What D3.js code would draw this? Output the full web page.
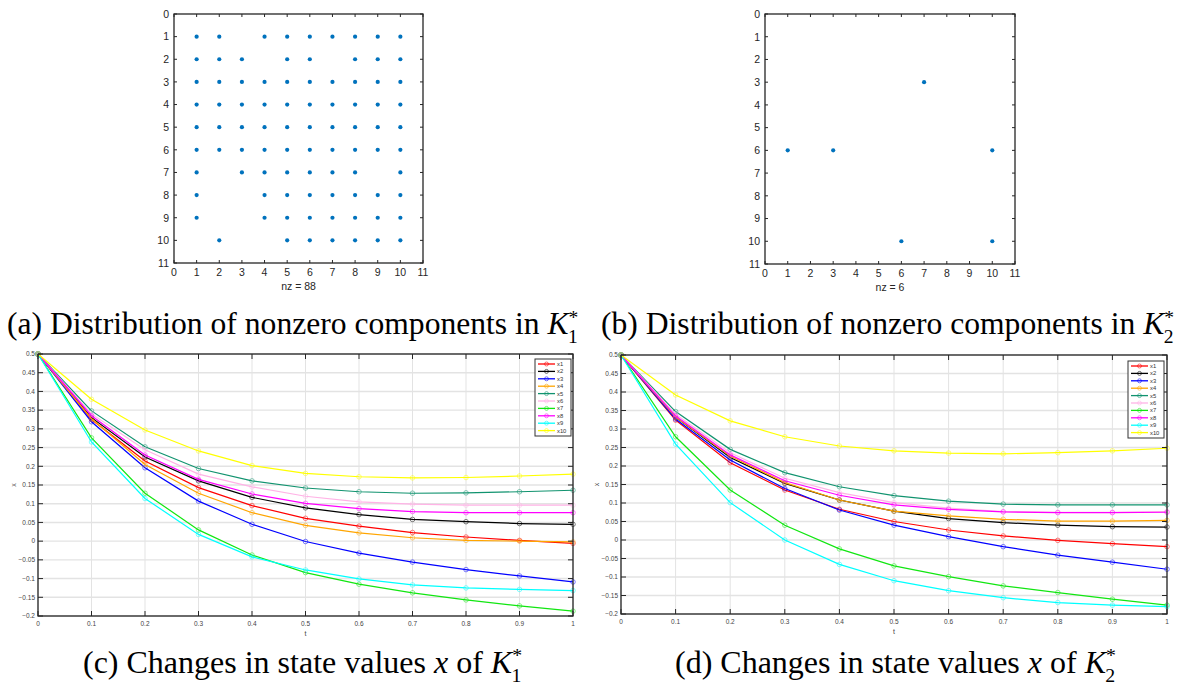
<!DOCTYPE html>
<html>
<head>
  <meta charset="utf-8">
  <script src="https://d3js.org/d3.v7.min.js"></script>
  <style>
    body { margin: 0; background: #fff; }
    text { font-family: "Liberation Sans", Arial, sans-serif; }
    .cap { font-family: "Liberation Serif", "Times New Roman", serif; fill: #000; }
  </style>
</head>
<body>
<script>
  "use strict";

  // spy patterns: column indices of the nonzeros, one list per row (rows 1..10)
  var k1Rows = [
    [1, 2, 4, 5, 6, 7, 8, 9, 10],
    [1, 2, 3, 5, 6, 8, 9, 10],
    [1, 2, 3, 4, 5, 6, 7, 8, 9, 10],
    [1, 2, 3, 4, 5, 6, 7, 8, 9, 10],
    [1, 2, 3, 4, 5, 6, 7, 8, 9, 10],
    [1, 2, 3, 4, 5, 6, 7, 8, 9, 10],
    [1, 3, 4, 5, 6, 7, 8, 10],
    [1, 4, 5, 6, 7, 8, 9, 10],
    [1, 4, 5, 6, 7, 8, 9, 10],
    [2, 5, 6, 7, 8, 9, 10]
  ];
  var k2Rows = [[], [], [7], [], [], [1, 3, 10], [], [], [], [6, 10]];
  var spyTicks = [0, 1, 2, 3, 4, 5, 6, 7, 8, 9, 10, 11];

  // time steps and tick labels of the state plots
  var tSteps = [0, 0.1, 0.2, 0.3, 0.4, 0.5, 0.6, 0.7, 0.8, 0.9, 1];
  var tTicks = [0, 0.1, 0.2, 0.3, 0.4, 0.5, 0.6, 0.7, 0.8, 0.9, 1];
  var xTicks = [-0.2, -0.15, -0.1, -0.05, 0, 0.05, 0.1, 0.15, 0.2, 0.25, 0.3, 0.35, 0.4, 0.45, 0.5];

  var seriesNames = ["x1", "x2", "x3", "x4", "x5", "x6", "x7", "x8", "x9", "x10"];
  var seriesColors = ["#ff0000", "#000000", "#0000ff", "#ffa500", "#11936f",
                      "#ffb3e6", "#11e611", "#ff00ff", "#00ffff", "#ffff00"];

  // panel (c): K1*
  var c_x1  = [0.5, 0.325, 0.214, 0.143, 0.095, 0.061, 0.040, 0.023, 0.011, 0.002, -0.006];
  var c_x2  = [0.5, 0.330, 0.225, 0.161, 0.117, 0.089, 0.071, 0.058, 0.052, 0.047, 0.045];
  var c_x3  = [0.5, 0.319, 0.196, 0.107, 0.045, -0.001, -0.032, -0.056, -0.076, -0.093, -0.109];
  var c_x4  = [0.5, 0.327, 0.205, 0.128, 0.076, 0.042, 0.022, 0.009, 0.002, 0.000, -0.002];
  var c_x5  = [0.5, 0.348, 0.252, 0.194, 0.161, 0.142, 0.132, 0.128, 0.129, 0.132, 0.136];
  var c_x6  = [0.5, 0.340, 0.244, 0.179, 0.145, 0.120, 0.105, 0.099, 0.096, 0.096, 0.096];
  var c_x7  = [0.5, 0.276, 0.128, 0.030, -0.037, -0.084, -0.115, -0.138, -0.157, -0.173, -0.187];
  var c_x8  = [0.5, 0.335, 0.230, 0.165, 0.126, 0.101, 0.087, 0.079, 0.076, 0.076, 0.076];
  var c_x9  = [0.5, 0.265, 0.114, 0.018, -0.042, -0.077, -0.101, -0.117, -0.125, -0.129, -0.132];
  var c_x10 = [0.5, 0.379, 0.297, 0.241, 0.202, 0.181, 0.172, 0.169, 0.170, 0.174, 0.179];

  // panel (d): K2*
  var d_x1  = [0.5, 0.324, 0.209, 0.135, 0.083, 0.050, 0.027, 0.011, -0.001, -0.010, -0.018];
  var d_x2  = [0.5, 0.332, 0.223, 0.153, 0.108, 0.078, 0.058, 0.047, 0.040, 0.036, 0.035];
  var d_x3  = [0.5, 0.327, 0.216, 0.139, 0.081, 0.040, 0.009, -0.018, -0.041, -0.060, -0.079];
  var d_x4  = [0.5, 0.332, 0.227, 0.155, 0.108, 0.078, 0.065, 0.056, 0.051, 0.051, 0.053];
  var d_x5  = [0.5, 0.347, 0.245, 0.182, 0.144, 0.120, 0.105, 0.097, 0.095, 0.095, 0.095];
  var d_x6  = [0.5, 0.340, 0.236, 0.167, 0.128, 0.101, 0.086, 0.077, 0.075, 0.075, 0.077];
  var d_x7  = [0.5, 0.279, 0.135, 0.040, -0.024, -0.070, -0.099, -0.124, -0.142, -0.160, -0.176];
  var d_x8  = [0.5, 0.335, 0.230, 0.160, 0.121, 0.095, 0.083, 0.076, 0.074, 0.074, 0.075];
  var d_x9  = [0.5, 0.259, 0.101, 0.000, -0.066, -0.110, -0.137, -0.156, -0.169, -0.176, -0.180];
  var d_x10 = [0.5, 0.392, 0.322, 0.279, 0.254, 0.241, 0.235, 0.233, 0.236, 0.241, 0.248];

  var W = 1194, H = 689;
  var svg = d3.select("body").append("svg")
    .attr("width", W).attr("height", H);
  svg.append("rect").attr("width", W).attr("height", H).attr("fill", "#fff");

  var axisColor = "#262626";

  // spy plot of a 10x10 sparsity pattern
  function drawSpy(left, top, size, rows, nzLabel) {
    var g = svg.append("g");
    var x = d3.scaleLinear().domain([0, 11]).range([left, left + size]);
    var y = d3.scaleLinear().domain([0, 11]).range([top, top + size]);

    var pts = [];
    rows.forEach(function (cols, i) {
      cols.forEach(function (c) { pts.push({ r: i + 1, c: c }); });
    });

    g.selectAll("circle").data(pts).enter().append("circle")
      .attr("cx", function (d) { return x(d.c); })
      .attr("cy", function (d) { return y(d.r); })
      .attr("r", 2.1)
      .attr("fill", "#0072bd");

    g.append("rect")
      .attr("x", left).attr("y", top).attr("width", size).attr("height", size)
      .attr("fill", "none").attr("stroke", axisColor).attr("stroke-width", 1.3);

    var tl = 3;
    spyTicks.forEach(function (v) {
      // ticks pointing inwards on all four sides
      g.append("line").attr("x1", x(v)).attr("x2", x(v)).attr("y1", top + size).attr("y2", top + size - tl)
        .attr("stroke", axisColor);
      g.append("line").attr("x1", x(v)).attr("x2", x(v)).attr("y1", top).attr("y2", top + tl)
        .attr("stroke", axisColor);
      g.append("line").attr("y1", y(v)).attr("y2", y(v)).attr("x1", left).attr("x2", left + tl)
        .attr("stroke", axisColor);
      g.append("line").attr("y1", y(v)).attr("y2", y(v)).attr("x1", left + size).attr("x2", left + size - tl)
        .attr("stroke", axisColor);

      g.append("text").attr("x", x(v)).attr("y", top + size + 13)
        .attr("text-anchor", "middle").attr("font-size", 10.5).attr("fill", axisColor).text(v);
      g.append("text").attr("x", left - 5).attr("y", y(v) + 3.8)
        .attr("text-anchor", "end").attr("font-size", 10.5).attr("fill", axisColor).text(v);
    });

    g.append("text").attr("x", left + size / 2).attr("y", top + size + 27)
      .attr("text-anchor", "middle").attr("font-size", 10.5).attr("fill", axisColor).text(nzLabel);
  }

  // state trajectories with open circle markers
  function drawStates(left, top, w, h, series, legendLeft, legendTop) {
    var g = svg.append("g");
    var x = d3.scaleLinear().domain([0, 1]).range([left, left + w]);
    var y = d3.scaleLinear().domain([-0.2, 0.5]).range([top + h, top]);

    // grid
    tTicks.forEach(function (v) {
      g.append("line").attr("x1", x(v)).attr("x2", x(v)).attr("y1", top).attr("y2", top + h)
        .attr("stroke", "#e3e3e3").attr("stroke-width", 1);
    });
    xTicks.forEach(function (v) {
      g.append("line").attr("y1", y(v)).attr("y2", y(v)).attr("x1", left).attr("x2", left + w)
        .attr("stroke", "#e3e3e3").attr("stroke-width", 1.4);
    });

    var line = d3.line()
      .x(function (d, i) { return x(tSteps[i]); })
      .y(function (d) { return y(d); });

    series.forEach(function (vals, k) {
      g.append("path").datum(vals)
        .attr("d", line)
        .attr("fill", "none")
        .attr("stroke", seriesColors[k])
        .attr("stroke-width", 1.2);
      g.selectAll(null).data(vals).enter().append("circle")
        .attr("cx", function (d, i) { return x(tSteps[i]); })
        .attr("cy", function (d) { return y(d); })
        .attr("r", 2.3)
        .attr("fill", "none")
        .attr("stroke", seriesColors[k])
        .attr("stroke-opacity", 0.55)
        .attr("stroke-width", 0.9);
    });

    // box and ticks
    g.append("rect")
      .attr("x", left).attr("y", top).attr("width", w).attr("height", h)
      .attr("fill", "none").attr("stroke", axisColor).attr("stroke-width", 1.3);

    var tl = 5;
    tTicks.forEach(function (v) {
      g.append("line").attr("x1", x(v)).attr("x2", x(v)).attr("y1", top + h).attr("y2", top + h - tl)
        .attr("stroke", axisColor);
      g.append("line").attr("x1", x(v)).attr("x2", x(v)).attr("y1", top).attr("y2", top + tl)
        .attr("stroke", axisColor);
      g.append("text").attr("x", x(v)).attr("y", top + h + 10)
        .attr("text-anchor", "middle").attr("font-size", 6.5).attr("fill", "#444").text(v);
    });
    xTicks.forEach(function (v) {
      g.append("line").attr("y1", y(v)).attr("y2", y(v)).attr("x1", left).attr("x2", left + tl)
        .attr("stroke", axisColor);
      g.append("line").attr("y1", y(v)).attr("y2", y(v)).attr("x1", left + w).attr("x2", left + w - tl)
        .attr("stroke", axisColor);
      g.append("text").attr("x", left - 3).attr("y", y(v) + 2.3)
        .attr("text-anchor", "end").attr("font-size", 6.5).attr("fill", "#444")
        .text(d3.format("")(+v.toFixed(2)));
    });

    g.append("text").attr("x", left + w / 2).attr("y", top + h + 20)
      .attr("text-anchor", "middle").attr("font-size", 7).attr("fill", "#444").text("t");
    g.append("text")
      .attr("transform", "translate(" + (left - 22) + "," + (top + h / 2) + ") rotate(-90)")
      .attr("text-anchor", "middle").attr("font-size", 7).attr("fill", "#444").text("x");

    // legend
    var lw = 36, lh = 77, step = 7.4;
    var lg = g.append("g");
    lg.append("rect").attr("x", legendLeft).attr("y", legendTop).attr("width", lw).attr("height", lh)
      .attr("fill", "#fff").attr("stroke", "#333").attr("stroke-width", 1);
    seriesNames.forEach(function (name, k) {
      var yy = legendTop + 5 + k * step;
      lg.append("line").attr("x1", legendLeft + 3).attr("x2", legendLeft + 20)
        .attr("y1", yy).attr("y2", yy)
        .attr("stroke", seriesColors[k]).attr("stroke-width", 1.3);
      lg.append("circle").attr("cx", legendLeft + 11.5).attr("cy", yy).attr("r", 2)
        .attr("fill", "none").attr("stroke", seriesColors[k])
        .attr("stroke-opacity", 0.6).attr("stroke-width", 0.9);
      lg.append("text").attr("x", legendLeft + 22).attr("y", yy + 2)
        .attr("font-size", 5.8).attr("fill", "#333").text(name);
    });
  }

  // serif captions with K*_n
  function caption(xPos, yPos, label, italicX, sub, size) {
    var t = svg.append("text").attr("class", "cap")
      .attr("x", xPos).attr("y", yPos).attr("font-size", size);
    if (italicX) {
      t.append("tspan").text(label + " ");
      t.append("tspan").attr("font-style", "italic").text("x");
      t.append("tspan").text(" of ");
    } else {
      t.append("tspan").text(label + " ");
    }
    t.append("tspan").attr("font-style", "italic").text("K");
    t.append("tspan").attr("font-size", size * 0.62).attr("dy", -size * 0.33).text("*");
    t.append("tspan").attr("font-size", size * 0.62).attr("dx", -size * 0.33).attr("dy", size * 0.62).text(sub);
  }

  drawSpy(174, 14, 249, k1Rows, "nz = 88");
  drawSpy(765, 14, 250, k2Rows, "nz = 6");

  drawStates(38, 354, 535, 262,
    [c_x1, c_x2, c_x3, c_x4, c_x5, c_x6, c_x7, c_x8, c_x9, c_x10], 535, 359);
  drawStates(621, 355, 546, 259,
    [d_x1, d_x2, d_x3, d_x4, d_x5, d_x6, d_x7, d_x8, d_x9, d_x10], 1128, 361);

  caption(7, 334, "(a) Distribution of nonzero components in", false, "1", 31.6);
  caption(601, 334, "(b) Distribution of nonzero components in", false, "2", 31.6);
  caption(83, 673, "(c) Changes in state values", true, "1", 32);
  caption(675, 673, "(d) Changes in state values", true, "2", 32);
</script>
</body>
</html>
